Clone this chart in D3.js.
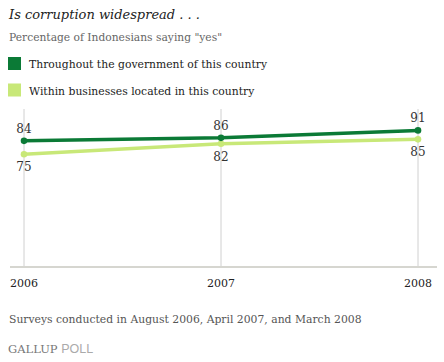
<!DOCTYPE html>
<html>
<head>
<meta charset="utf-8">
<script src="https://cdnjs.cloudflare.com/ajax/libs/d3/7.8.5/d3.min.js"></script>
<style>
  body { margin: 0; background: #fff; }
  svg { display: block; }
</style>
</head>
<body>
<svg id="chart" width="444" height="362"></svg>
<script>
// survey years and shares saying "yes"
var years = ["2006", "2007", "2008"];
var government = [84, 86, 91];
var businesses = [75, 82, 85];
var seriesNames = ["Throughout the government of this country", "Within businesses located in this country"];
var seriesColors = ["#0b7a36", "#c8e878"];

var serif = "'DejaVu Serif', 'Liberation Serif', serif";

function drawChart() {
    var svg = d3.select("#chart");

    var x = d3.scalePoint().domain(years).range([24, 418]);
    var y = d3.scaleLinear().domain([0, 100]).range([266, 117]);

    // title
    svg.append("text")
        .attr("x", 9).attr("y", 19)
        .style("font-family", serif)
        .style("font-style", "italic")
        .style("font-size", "13px")
        .style("fill", "#222")
        .text("Is corruption widespread . . .");

    svg.append("text")
        .attr("x", 9).attr("y", 41)
        .style("font-family", serif)
        .style("font-size", "10.7px")
        .style("fill", "#666")
        .text("Percentage of Indonesians saying \"yes\"");

    // legend
    var legend = svg.selectAll(".legend")
        .data(seriesNames)
        .enter().append("g")
        .attr("transform", function(d, i) { return "translate(8," + (57 + i * 26.5) + ")"; });

    legend.append("rect")
        .attr("width", 13).attr("height", 13)
        .style("fill", function(d, i) { return seriesColors[i]; });

    legend.append("text")
        .attr("x", 21).attr("y", 11)
        .style("font-family", serif)
        .style("font-size", "10.8px")
        .style("fill", "#222")
        .text(function(d) { return d; });

    // vertical grid lines
    svg.selectAll(".grid")
        .data(years)
        .enter().append("line")
        .attr("x1", function(d) { return x(d); })
        .attr("x2", function(d) { return x(d); })
        .attr("y1", 109).attr("y2", 266)
        .style("stroke", "#d0d0d0")
        .style("stroke-width", 1);

    // baseline
    svg.append("line")
        .attr("x1", 10).attr("x2", 437)
        .attr("y1", y(0) + 1).attr("y2", y(0) + 1)
        .style("stroke", "#d6d6d0")
        .style("stroke-width", 2);

    // year labels
    svg.selectAll(".year")
        .data(years)
        .enter().append("text")
        .attr("x", function(d) { return x(d); })
        .attr("y", 287)
        .attr("text-anchor", "middle")
        .style("font-family", serif)
        .style("font-size", "11px")
        .style("fill", "#222")
        .text(function(d) { return d; });

    var series = [government, businesses];
    var line = d3.line()
        .x(function(d, i) { return x(years[i]); })
        .y(function(d) { return y(d); });

    // draw light series first so the dark one sits on top
    [1, 0].forEach(function(s) {
        var vals = series[s];
        svg.append("path")
            .datum(vals)
            .attr("d", line)
            .style("fill", "none")
            .style("stroke", seriesColors[s])
            .style("stroke-width", 3.5);

        svg.selectAll(".pt" + s)
            .data(vals)
            .enter().append("circle")
            .attr("cx", function(d, i) { return x(years[i]); })
            .attr("cy", function(d) { return y(d); })
            .attr("r", 3.3)
            .style("fill", seriesColors[s]);

        svg.selectAll(".lbl" + s)
            .data(vals)
            .enter().append("text")
            .attr("x", function(d, i) { return x(years[i]); })
            .attr("y", function(d) { return s === 0 ? y(d) - 8 : y(d) + 17; })
            .attr("text-anchor", "middle")
            .style("font-family", serif)
            .style("font-size", "12px")
            .style("fill", "#333")
            .text(function(d) { return d; });
    });

    // footnote
    svg.append("text")
        .attr("x", 9).attr("y", 323)
        .style("font-family", serif)
        .style("font-size", "10.8px")
        .style("fill", "#555")
        .text("Surveys conducted in August 2006, April 2007, and March 2008");

    var logo = svg.append("text")
        .attr("x", 8).attr("y", 353)
        .style("font-family", serif)
        .style("font-size", "11.5px");
    logo.append("tspan").style("fill", "#777").text("GALLUP ");
    logo.append("tspan").style("fill", "#aaa")
        .style("font-family", "'Liberation Sans', Arial, sans-serif")
        .style("font-size", "12.5px")
        .text("POLL");
}

drawChart();
</script>
</body>
</html>
